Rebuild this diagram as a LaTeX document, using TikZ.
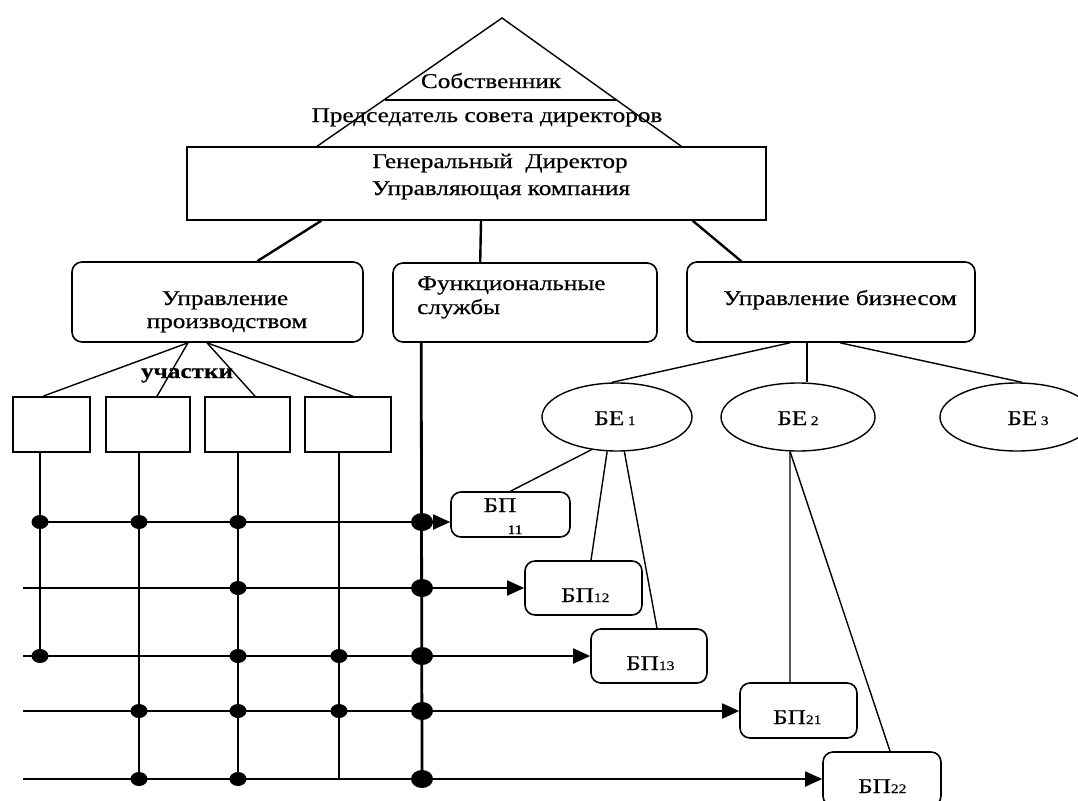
\documentclass[tikz,border=0pt]{standalone}
\usepackage{fontspec}
\setmainfont{Liberation Serif}[FakeStretch=1.2,FakeBold=0.5]
\usetikzlibrary{arrows.meta,shapes.geometric,calc}
\newcommand{\mainfs}{\fontsize{21}{24}\selectfont}
\newcommand{\lowidx}[1]{{\fontsize{13}{13}\selectfont #1}}
\begin{document}
\begin{tikzpicture}[x=1pt,y=-1pt,
  every node/.style={font=\mainfs},
  rbox/.style={draw, rounded corners=10pt, line width=1.6pt, inner sep=0pt},
  sqbox/.style={draw, line width=1.6pt, inner sep=0pt},
  oval/.style={ellipse, draw, line width=1.4pt, inner sep=0pt, minimum height=68pt},
  dot/.style={ellipse, fill, inner sep=0pt, minimum width=17pt, minimum height=14pt},
  bigdot/.style={ellipse, fill, inner sep=0pt, minimum width=22pt, minimum height=18pt},
  txt/.style={anchor=base, inner sep=0pt},
  conn/.style={line width=1.4pt},
  heavy/.style={line width=2.4pt},
  grid/.style={line width=1.8pt},
  arr/.style={line width=1.8pt, -{Triangle[length=17pt,width=15pt]}}
]
\useasboundingbox (0,0) rectangle (1078,800);
\clip (0,0) rectangle (1078,800);

% pyramid
\node[sqbox, minimum width=579pt, minimum height=73pt] (main) at (476.5,183.5) {};
\coordinate (apex) at (502,18);
\coordinate (tl) at ([xshift=131pt]main.north west);
\coordinate (tr) at ([xshift=495pt]main.north west);
\draw[conn] (tl) -- (apex) -- (tr);
\coordinate (il) at (385,100);
\coordinate (ir) at (616,100);
\draw[conn] (il) -- (ir);
\node[txt] (owner) at (491,88) {Собственник};
\node[txt] (chair) at (487,122) {Председатель совета директоров};
\node[txt] (gd1) at (500,168) {Генеральный\ \ Директор};
\node[txt] (gd2) at (501,195) {Управляющая компания};

% second level
\node[rbox, minimum width=291pt, minimum height=80pt] (prod) at (217.5,302) {};
\node[txt] (prodt1) at (225,305) {Управление};
\node[txt] (prodt2) at (227,328) {производством};
\node[rbox, minimum width=264pt, minimum height=79pt] (func) at (525,302.5) {};
\node[txt, anchor=base west] (funct1) at (417,290) {Функциональные};
\node[txt, anchor=base west] (funct2) at (417,314) {службы};
\node[rbox, minimum width=288pt, minimum height=80pt] (biz) at (831,302) {};
\node[txt] (bizt) at (840,305) {Управление бизнесом};

\draw[heavy] ([xshift=135pt]main.south west) -- ([xshift=186pt]prod.north west);
\draw[heavy] ([xshift=4.5pt]main.south) -- ([xshift=88pt]func.north west);
\draw[heavy] ([xshift=-74pt]main.south east) -- ([xshift=55pt]biz.north west);

% sections
\node[sqbox, minimum width=77pt, minimum height=55pt] (s1) at (51.5,424.5) {};
\node[sqbox, minimum width=84pt, minimum height=55pt] (s2) at (148,424.5) {};
\node[sqbox, minimum width=85pt, minimum height=55pt] (s3) at (247.5,424.5) {};
\node[sqbox, minimum width=86pt, minimum height=55pt] (s4) at (348,424.5) {};
\node[txt, font=\mainfs\bfseries] (sect) at (187,378) {участки};
\draw[conn] ([xshift=-29.5pt]prod.south) -- ([xshift=-8.5pt]s1.north);
\draw[conn] ([xshift=-29.5pt]prod.south) -- ([xshift=9pt]s2.north);
\draw[conn] ([xshift=-10.5pt]prod.south) -- ([xshift=7.5pt]s3.north);
\draw[conn] ([xshift=-10.5pt]prod.south) -- ([xshift=5pt]s4.north);

% business units
\node[oval, minimum width=150pt] (be1) at (617,417) {};
\node[oval, minimum width=154pt] (be2) at (798,417) {};
\node[oval, minimum width=154pt] (be3) at (1017,417) {};
\node[txt] (be1t) at (615,425) {БЕ\,\lowidx{1}};
\node[txt] (be2t) at (798,425) {БЕ\,\lowidx{2}};
\node[txt] (be3t) at (1028,425) {БЕ\,\lowidx{3}};
\draw[conn] ([xshift=-41pt]biz.south) -- ([xshift=-5pt]be1.north);
\draw[conn] ([xshift=-24pt]biz.south) -- ([xshift=9pt]be2.north);
\draw[conn] ([xshift=9pt]biz.south) -- ([xshift=5pt]be3.north);

% business processes
\node[rbox, minimum width=119pt, minimum height=45pt] (bp11) at (510.5,514.5) {};
\node[rbox, minimum width=117pt, minimum height=54pt] (bp12) at (583.5,588) {};
\node[rbox, minimum width=116pt, minimum height=54pt] (bp13) at (649,656) {};
\node[rbox, minimum width=117pt, minimum height=55pt] (bp21) at (798.5,710.5) {};
\node[rbox, minimum width=118pt, minimum height=54pt] (bp22) at (882,779) {};
\node[txt] (bp11t) at (500,512) {БП};
\node[txt] (bp11s) at (515,534) {\lowidx{11}};
\node[txt, anchor=base west] (bp12t) at (561,602) {БП\lowidx{12}};
\node[txt, anchor=base west] (bp13t) at (626,670) {БП\lowidx{13}};
\node[txt, anchor=base west] (bp21t) at (773,724) {БП\lowidx{21}};
\node[txt, anchor=base west] (bp22t) at (858,793) {БП\lowidx{22}};

\draw[conn] (be1.232) -- (bp11.north);
\draw[conn] (be1.254) -- ([xshift=7.5pt]bp12.north);
\draw[conn] (be1.282) -- ([xshift=8pt]bp13.north);
\draw[conn] (be2.257) -- ([xshift=-8.5pt]bp21.north);
\draw[conn] (be2.257) -- ([xshift=8pt]bp22.north);

% grid
\coordinate (L2) at (23,588);
\coordinate (L3) at (23,656);
\coordinate (L4) at (23,711);
\coordinate (L5) at (23,779);
\foreach \x/\y/\n in {40/522/a1,139/522/a2,238/522/a3,
  238/588/b3,
  40/656/c1,238/656/c3,339/656/c4,
  139/711/d2,238/711/d3,339/711/d4,
  139/779/e2,238/779/e3}
  \node[dot] (\n) at (\x,\y) {};
\foreach \y/\n in {522/a5,588/b5,656/c5,711/d5,779/e5}
  \node[bigdot] (\n) at (422,\y) {};

\draw[grid] ([xshift=-11.5pt]s1.south) -- (c1.center);
\draw[grid] ([xshift=-9pt]s2.south) -- (e2.center);
\draw[grid] ([xshift=-9.5pt]s3.south) -- (e3.center);
\draw[grid] ([xshift=-9pt]s4.south) -- ([xshift=-9pt]s4.south |- L5);
\draw[line width=2.8pt] ([xshift=29pt]func.south west) -- (e5.center);

\draw[arr] (a1.center) -- (a1 -| bp11.west);
\draw[arr] (L2) -- (L2 -| bp12.west);
\draw[arr] (L3) -- (L3 -| bp13.west);
\draw[arr] (L4) -- (L4 -| bp21.west);
\draw[arr] (L5) -- (L5 -| bp22.west);
\end{tikzpicture}
\end{document}
